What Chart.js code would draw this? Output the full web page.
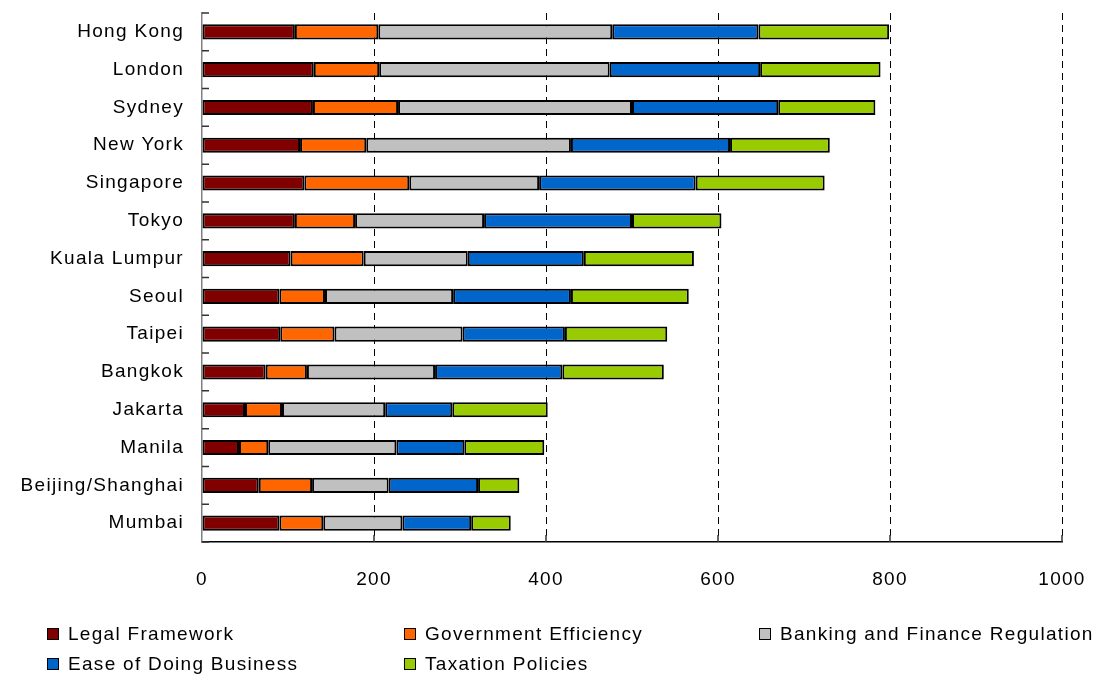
<!DOCTYPE html>
<html>
<head>
<meta charset="utf-8">
<script src="https://cdn.jsdelivr.net/npm/chart.js@4/dist/chart.umd.min.js"></script>
<style>
  html, body { margin: 0; padding: 0; background: #fff; }
  #wrap { position: relative; width: 1109px; height: 679px; }
  #grafico { display: block; }
  #legend .item {
    position: absolute;
    display: flex;
    align-items: center;
    font: 19px "Liberation Sans", Arial, sans-serif;
    letter-spacing: 1.3px;
    color: #000;
    white-space: nowrap;
    transform: translateY(-50%);
  }
  #legend .box {
    width: 10px;
    height: 10px;
    border: 1px solid #000;
    margin-right: 9px;
  }
</style>
</head>
<body>
<div id="wrap">
  <canvas id="grafico" width="1109" height="679"></canvas>
  <div id="legend"></div>
</div>
<script>
// cidades (de cima para baixo)
const cities = ['Hong Kong', 'London', 'Sydney', 'New York', 'Singapore', 'Tokyo', 'Kuala Lumpur',
  'Seoul', 'Taipei', 'Bangkok', 'Jakarta', 'Manila', 'Beijing/Shanghai', 'Mumbai'];

// pontuação por critério
const legal      = [108, 130, 129, 114, 119, 108, 103,  90,  91,  74,  50,  43,  66,  90];
const government = [ 97,  76,  99,  77, 122,  70,  85,  53,  63,  48,  43,  34,  62,  51];
const banking    = [272, 268, 272, 238, 151, 150, 121, 149, 149, 149, 120, 149,  89,  92];
const business   = [170, 175, 170, 185, 182, 172, 135, 137, 119, 148,  78,  79, 104,  80];
const taxation   = [152, 140, 113, 116, 150, 104, 128, 137, 119, 118, 111,  93,  48,  46];

const seriesNames = ['Legal Framework', 'Government Efficiency', 'Banking and Finance Regulation',
  'Ease of Doing Business', 'Taxation Policies'];
const xTicks = [0, 200, 400, 600, 800, 1000];

const colors = ['#800000', '#ff6600', '#c0c0c0', '#0066cc', '#99cc00'];
const font = { family: '"Liberation Sans", Arial, sans-serif', size: 19 };

// tracinhos internos nos eixos (estilo Excel)
const insideTicks = {
  id: 'insideTicks',
  beforeDraw(chart) {
    chart.ctx.letterSpacing = '1.3px';
  },
  afterDraw(chart) {
    const { ctx, chartArea, scales } = chart;
    const y = scales.y, x = scales.x;
    const step = y.getPixelForValue(1) - y.getPixelForValue(0);
    ctx.save();
    ctx.strokeStyle = '#333';
    ctx.lineWidth = 1.5;
    ctx.beginPath();
    for (let i = 0; i <= cities.length; i++) {
      const py = y.getPixelForValue(i) - step / 2;
      ctx.moveTo(chartArea.left, py);
      ctx.lineTo(chartArea.left + 7, py);
    }
    xTicks.forEach(v => {
      if (v === 0) return;
      const px = x.getPixelForValue(v);
      ctx.moveTo(px, chartArea.bottom);
      ctx.lineTo(px, chartArea.bottom - 7);
    });
    ctx.stroke();
    ctx.restore();
  }
};

const series = [legal, government, banking, business, taxation];

new Chart(document.getElementById('grafico'), {
  type: 'bar',
  data: {
    labels: cities,
    datasets: series.map((d, i) => ({
      label: seriesNames[i],
      data: d,
      backgroundColor: colors[i],
      borderColor: '#000',
      borderWidth: 2,
      borderSkipped: false,
      categoryPercentage: 1,
      barPercentage: 0.4
    }))
  },
  options: {
    indexAxis: 'y',
    responsive: false,
    animation: false,
    layout: { padding: { top: 13, right: 47, left: 0, bottom: 0 } },
    plugins: {
      legend: { display: false },
      tooltip: { enabled: false }
    },
    scales: {
      x: {
        type: 'linear',
        stacked: true,
        min: 0,
        max: 1000,
        afterBuildTicks: s => { s.ticks = xTicks.map(v => ({ value: v })); },
        afterFit: s => { s.height = 137; s.paddingLeft = 0; s.paddingRight = 0; },
        grid: {
          color: c => (c.tick && c.tick.value === 0) ? 'rgba(0,0,0,0)' : '#000',
          lineWidth: 1,
          drawTicks: false
        },
        border: { color: '#000', width: 1.5, dash: [7, 5] },
        ticks: { padding: 26, font, color: '#000', callback: v => String(v) }
      },
      y: {
        stacked: true,
        afterFit: s => { s.width = 202; s.paddingTop = 0; s.paddingBottom = 0; },
        grid: { display: false, drawTicks: false },
        border: { color: '#808080', width: 1.5 },
        ticks: { padding: 18, font, color: '#000' }
      }
    }
  },
  plugins: [insideTicks]
});

// legenda em duas linhas, três colunas
const legendPos = [[47, 634], [404, 634], [759, 634], [47, 664], [404, 664]];
const legend = document.getElementById('legend');
seriesNames.forEach((name, i) => {
  const item = document.createElement('div');
  item.className = 'item';
  item.style.left = legendPos[i][0] + 'px';
  item.style.top = legendPos[i][1] + 'px';
  const box = document.createElement('span');
  box.className = 'box';
  box.style.background = colors[i];
  item.appendChild(box);
  item.appendChild(document.createTextNode(name));
  legend.appendChild(item);
});
</script>
</body>
</html>
